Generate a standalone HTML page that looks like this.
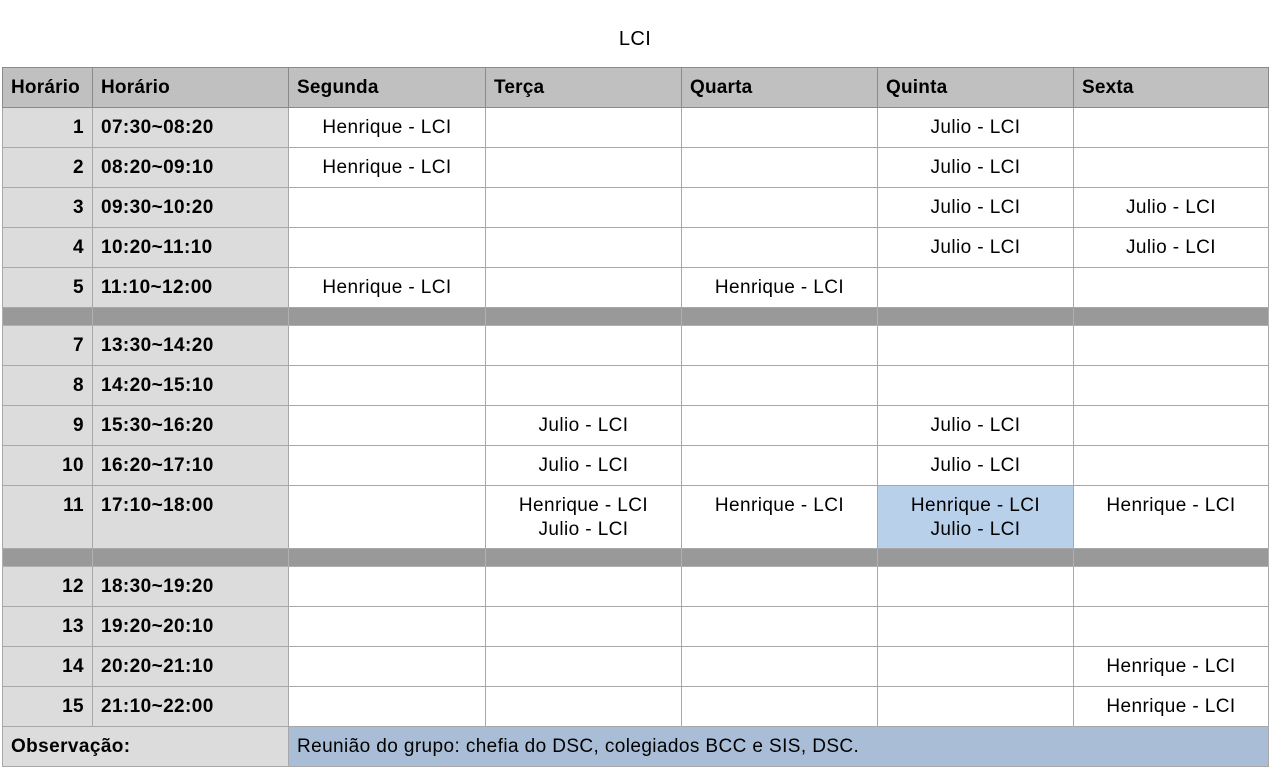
<!DOCTYPE html>
<html><head><meta charset="utf-8"><style>
body{margin:0;background:#fff;width:1270px;height:768px;overflow:hidden;font-family:"Liberation Sans",Arial,sans-serif;font-size:19px;letter-spacing:0.4px;color:#000}
.title{position:absolute;top:28px;left:0;width:1270px;text-align:center;font-size:20px}
table{position:absolute;left:2px;top:67px;border-collapse:collapse;table-layout:fixed;width:1266px}
td{border:1px solid #a8a8a8;height:40px;padding:0 8px;vertical-align:top;line-height:24px;padding-top:8px;box-sizing:border-box;overflow:hidden;white-space:nowrap}
tr.h td{background:#c0c0c0;font-weight:bold;border-color:#8a8a8a;letter-spacing:0.2px}
td.n{background:#dcdcdc;font-weight:bold;text-align:right}
td.t{background:#dcdcdc;font-weight:bold}
td.c{text-align:center}
tr.s td{background:#999;height:18px;padding:0;border-color:#b0b0b0}
tr.big td{height:63px}
.hl{background:#b8d0ea}
.obs{background:#a9bed6}
</style></head><body>
<div class="title">LCI</div>
<table>
<colgroup><col style="width:90px"><col style="width:196px"><col style="width:197px"><col style="width:196px"><col style="width:196px"><col style="width:196px"><col style="width:195px"></colgroup>
<tr class="h"><td>Horário</td><td>Horário</td><td>Segunda</td><td>Terça</td><td>Quarta</td><td>Quinta</td><td>Sexta</td></tr>
<tr><td class="n">1</td><td class="t">07:30~08:20</td><td class="c">Henrique - LCI</td><td></td><td></td><td class="c">Julio - LCI</td><td></td></tr>
<tr><td class="n">2</td><td class="t">08:20~09:10</td><td class="c">Henrique - LCI</td><td></td><td></td><td class="c">Julio - LCI</td><td></td></tr>
<tr><td class="n">3</td><td class="t">09:30~10:20</td><td></td><td></td><td></td><td class="c">Julio - LCI</td><td class="c">Julio - LCI</td></tr>
<tr><td class="n">4</td><td class="t">10:20~11:10</td><td></td><td></td><td></td><td class="c">Julio - LCI</td><td class="c">Julio - LCI</td></tr>
<tr><td class="n">5</td><td class="t">11:10~12:00</td><td class="c">Henrique - LCI</td><td></td><td class="c">Henrique - LCI</td><td></td><td></td></tr>
<tr class="s"><td></td><td></td><td></td><td></td><td></td><td></td><td></td></tr>
<tr><td class="n">7</td><td class="t">13:30~14:20</td><td></td><td></td><td></td><td></td><td></td></tr>
<tr><td class="n">8</td><td class="t">14:20~15:10</td><td></td><td></td><td></td><td></td><td></td></tr>
<tr><td class="n">9</td><td class="t">15:30~16:20</td><td></td><td class="c">Julio - LCI</td><td></td><td class="c">Julio - LCI</td><td></td></tr>
<tr><td class="n">10</td><td class="t">16:20~17:10</td><td></td><td class="c">Julio - LCI</td><td></td><td class="c">Julio - LCI</td><td></td></tr>
<tr class="big"><td class="n">11</td><td class="t">17:10~18:00</td><td></td><td class="c">Henrique - LCI<br>Julio - LCI</td><td class="c">Henrique - LCI</td><td class="c hl">Henrique - LCI<br>Julio - LCI</td><td class="c">Henrique - LCI</td></tr>
<tr class="s"><td></td><td></td><td></td><td></td><td></td><td></td><td></td></tr>
<tr><td class="n">12</td><td class="t">18:30~19:20</td><td></td><td></td><td></td><td></td><td></td></tr>
<tr><td class="n">13</td><td class="t">19:20~20:10</td><td></td><td></td><td></td><td></td><td></td></tr>
<tr><td class="n">14</td><td class="t">20:20~21:10</td><td></td><td></td><td></td><td></td><td class="c">Henrique - LCI</td></tr>
<tr><td class="n">15</td><td class="t">21:10~22:00</td><td></td><td></td><td></td><td></td><td class="c">Henrique - LCI</td></tr>
<tr><td class="t" colspan="2">Observação:</td><td class="obs" colspan="5">Reunião do grupo: chefia do DSC, colegiados BCC e SIS, DSC.</td></tr>
</table>
</body></html>
